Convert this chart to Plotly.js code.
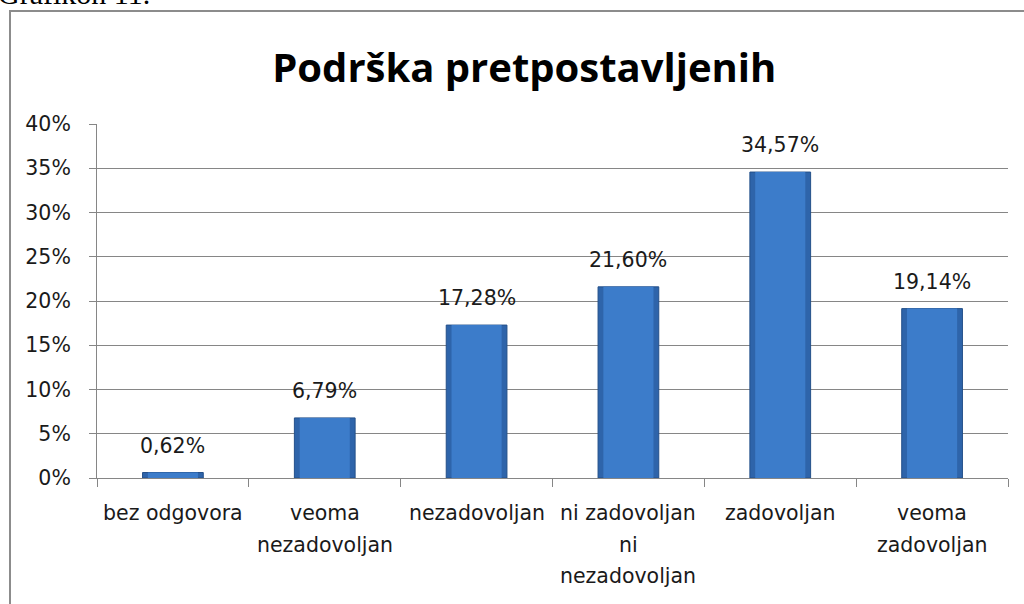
<!DOCTYPE html>
<html>
<head>
<meta charset="utf-8">
<script src="https://cdn.plot.ly/plotly-3.0.1.min.js"></script>
<style>html,body{margin:0;padding:0;background:#fff;}#chart{width:1024px;height:604px;}</style>
</head>
<body>
<div id="chart"></div>
<script>
const categories = ["bez odgovora", "veoma nezadovoljan", "nezadovoljan", "ni zadovoljan ni nezadovoljan", "zadovoljan", "veoma zadovoljan"];
const categoryLines = [["bez odgovora"], ["veoma", "nezadovoljan"], ["nezadovoljan"], ["ni zadovoljan", "ni", "nezadovoljan"], ["zadovoljan"], ["veoma", "zadovoljan"]];
const values = [0.62, 6.79, 17.28, 21.60, 34.57, 19.14];
const yTicks = [0, 5, 10, 15, 20, 25, 30, 35, 40];

const FONT = "'DejaVu Sans', sans-serif";
const TITLE_FONT = "'Open Sans', sans-serif";
const labels = values.map(v => v.toFixed(2).replace('.', ',') + '%');

const annotations = [];
values.forEach((v, i) => {
  annotations.push({
    x: categories[i], y: v, xref: 'x', yref: 'y', text: labels[i], showarrow: false,
    yanchor: 'middle', yshift: 27, font: {family: FONT, size: 20.5, color: '#1a1a1a'}
  });
});
categoryLines.forEach((lines, i) => {
  lines.forEach((t, j) => {
    annotations.push({
      x: categories[i], y: 0, xref: 'x', yref: 'paper', text: t, showarrow: false,
      yanchor: 'middle', yshift: -(35 + 31.5 * j), font: {family: FONT, size: 20.5, color: '#1a1a1a'}
    });
  });
});
annotations.push({
  x: -97 / 911, y: 478 / 354, xref: 'paper', yref: 'paper', xanchor: 'left', yanchor: 'middle',
  text: 'Grafikon 11.', showarrow: false, yshift: 6, xshift: -4,
  font: {family: "'Liberation Serif', serif", size: 30, color: '#000'}
});

// outer (darker edge) bar and inner lighter face, same data
const traceEdge = {
  type: 'bar', x: categories, y: values,
  marker: {color: '#2e64aa', line: {color: '#24508a', width: 1}},
  width: 0.4, hoverinfo: 'skip'
};
const traceFace = {
  type: 'bar', x: categories, y: values,
  marker: {color: '#3c7cca', line: {width: 0}},
  width: 0.33, hoverinfo: 'skip'
};

const layout = {
  width: 1024, height: 604,
  margin: {l: 97, r: 16, t: 124, b: 126},
  paper_bgcolor: '#fff', plot_bgcolor: '#fff',
  showlegend: false, barmode: 'overlay',
  title: {text: '<b>Podrška pretpostavljenih</b>', x: 0.512, xref: 'container', xanchor: 'center',
    y: 1 - 68 / 604, yref: 'container', yanchor: 'middle',
    font: {family: TITLE_FONT, size: 40, color: '#000'}},
  xaxis: {type: 'category', showticklabels: false, ticks: 'outside', tickson: 'boundaries',
    ticklen: 8, tickcolor: '#868686', showline: true, linecolor: '#868686', linewidth: 1,
    showgrid: false, zeroline: false, fixedrange: true},
  yaxis: {range: [0, 40], tickvals: yTicks, ticktext: yTicks.map(t => t + '%'),
    ticks: 'outside', ticklen: 7, tickcolor: '#868686', showline: true, linecolor: '#868686',
    gridcolor: '#868686', gridwidth: 1, zeroline: false, ticklabelstandoff: 14,
    tickfont: {family: FONT, size: 20.5, color: '#1a1a1a'}, fixedrange: true},
  shapes: [{type: 'rect', xref: 'paper', yref: 'paper', x0: -87 / 911, x1: 1.2, y0: -0.6, y1: (478 - 11) / 354,
    line: {color: '#8c8c8c', width: 2}, fillcolor: 'rgba(0,0,0,0)', layer: 'below'}],
  annotations: annotations
};

Plotly.newPlot('chart', [traceEdge, traceFace], layout, {displayModeBar: false, staticPlot: true});
</script>
</body>
</html>
